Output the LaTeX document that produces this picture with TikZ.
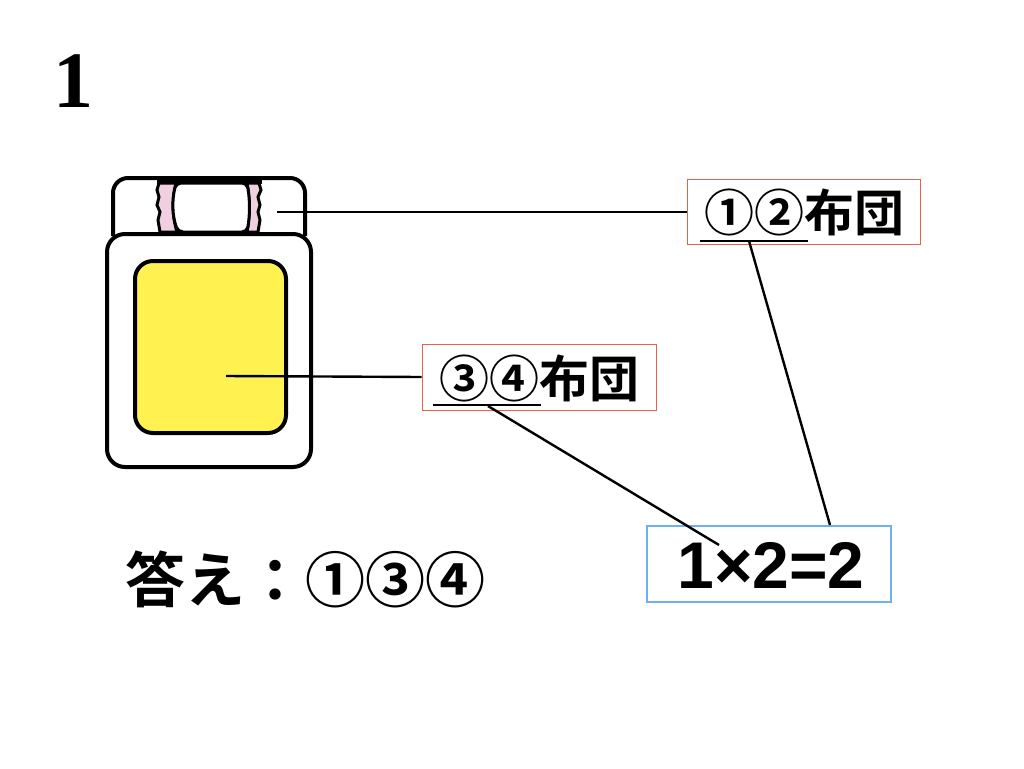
\documentclass[tikz,border=0pt]{standalone}
\usepackage{fontspec}
\setmainfont{Liberation Sans}
\newfontfamily\cjkb[BoldFont=Noto Sans CJK JP Bold]{Noto Sans CJK JP}
\newfontfamily\numf{Liberation Sans Bold}
\newfontfamily\serf{Liberation Serif Bold}
\definecolor{pinkb}{HTML}{EFCFE0}
\definecolor{yel}{HTML}{FFF150}
\definecolor{redb}{HTML}{E8604C}
\definecolor{blueb}{HTML}{6FB0F0}
\tikzset{
  px/.style={x=1pt,y=-1pt},
  outl/.style={draw=black,line width=4pt},
  conn/.style={draw=black,line width=2.4pt},
  lab/.style={inner sep=0pt,anchor=center,font=\cjkb\bfseries\fontsize{50}{50}\selectfont},
  lbox/.style={draw=redb,line width=1pt,fill=white},
  bbox/.style={draw=blueb,line width=1.2pt,fill=white},
}
\begin{document}
\begin{tikzpicture}[px]
\useasboundingbox (0,0) rectangle (1024,768);
% title
\node[inner sep=0pt,font=\serf\fontsize{80}{80}\selectfont] (title) at (73,81) {1};
% pillow
\draw[outl,fill=white,rounded corners=15pt] (113,236) -- (113,178) -- (305,178) -- (305,236);
\fill[black] (157,178) rectangle (262,184);
\draw[line width=3pt,fill=pinkb] (159,183) -- (157,190) -- (159,197) -- (157,205) -- (160,212) -- (158,220) -- (160,232) -- (177,232) .. controls (172,215) and (172,200) .. (176,183) -- cycle;
\draw[line width=3pt,fill=pinkb] (259,183) -- (261,190) -- (258,197) -- (260,205) -- (258,212) -- (260,220) -- (258,232) -- (247,232) .. controls (250,215) and (250,200) .. (247,183) -- cycle;
\draw[line width=3pt,fill=white,rounded corners=5pt] (176,183) .. controls (172,200) and (172,215) .. (178,232) -- (247,232) .. controls (250,215) and (250,200) .. (247,183) -- cycle;
% body
\draw[outl,fill=white,rounded corners=18pt] (107,234) rectangle (311,467);
\draw[outl,fill=yel,rounded corners=18pt] (135,261) rectangle (286,433);
% boxes
\node[lbox,minimum width=233pt,minimum height=65pt,inner sep=0pt] (b1) at (803.5,212) {};
\node[lbox,minimum width=234pt,minimum height=66pt,inner sep=0pt] (b2) at (539,377) {};
\node[bbox,minimum width=244pt,minimum height=76pt,inner sep=0pt] (b3) at (769,564) {};
% text
\node[lab] (t1) at (804,212) {①②布団};
\node[lab] (t2) at (539,378) {③④布団};
\node[inner sep=0pt,font=\numf\fontsize{66}{66}\selectfont] (t3) at (771,565) {1×2=2};
\node[inner sep=0pt,font=\cjkb\bfseries\fontsize{60}{60}\selectfont] (ans) at (305,579) {答え：①③④};
% connectors
\coordinate (p1) at (277,212);
\coordinate (p2) at (226,376);
\coordinate (u1a) at (700,241);
\coordinate (u1b) at (808,241);
\coordinate (u2a) at (433,405);
\coordinate (u2b) at (541,405);
\coordinate (c1a) at (749,241);
\coordinate (c1b) at (830,525);
\coordinate (c2a) at (488,406);
\coordinate (c2b) at (719,545);
\draw[conn] (p1) -- (b1.west);
\draw[conn] (p2) -- (b2.west);
\draw[conn] (u1a) -- (u1b);
\draw[conn] (u2a) -- (u2b);
\draw[conn] (c1a) -- (c1b);
\draw[conn] (c2a) -- (c2b);
\end{tikzpicture}
\end{document}
